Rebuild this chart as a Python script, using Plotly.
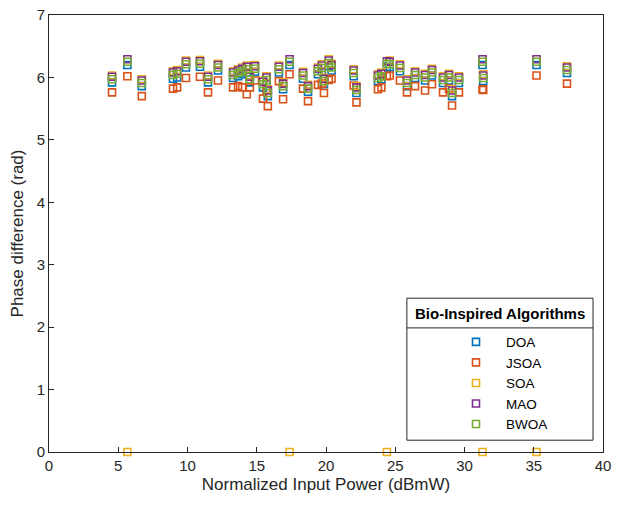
import plotly.graph_objects as go

# Normalized input power (dBmW)
power = [4.55, 5.66, 6.70, 8.95, 9.25, 9.89, 10.90, 11.48, 12.20, 13.29,
         13.65, 13.95, 14.28, 14.50, 14.87, 15.45, 15.70, 15.80, 16.60, 16.90,
         17.37, 18.34, 18.70, 19.42, 19.70, 19.85, 20.20, 20.40, 22.00, 22.20,
         23.75, 24.00, 24.40, 24.60, 25.34, 25.85, 26.43, 27.15, 27.65, 28.45,
         28.88, 29.10, 29.60, 31.30, 31.35, 35.20, 37.40]

doa = [5.92, 6.20, 5.86, 5.98, 6.00, 6.16, 6.17, 5.92, 6.11, 5.99,
       6.02, 6.05, 6.08, 5.92, 6.09, 5.84, 5.91, 5.70, 6.08, 5.81,
       6.20, 5.98, 5.77, 6.05, 6.10, 5.89, 6.18, 6.11, 6.02, 5.75,
       5.94, 5.97, 6.17, 6.16, 6.10, 5.86, 5.99, 5.95, 6.03, 5.91,
       5.95, 5.70, 5.91, 6.20, 5.94, 6.20, 6.07]

jsoa = [5.76, 6.02, 5.70, 5.82, 5.84, 5.99, 6.01, 5.76, 5.95, 5.84,
        5.86, 5.84, 5.73, 5.84, 5.95, 5.66, 5.80, 5.54, 5.94, 5.65,
        6.05, 5.82, 5.62, 5.88, 5.90, 5.75, 5.96, 5.98, 5.87, 5.60,
        5.81, 5.84, 6.02, 6.03, 5.95, 5.76, 5.86, 5.79, 5.89, 5.76,
        5.82, 5.55, 5.76, 5.81, 5.80, 6.03, 5.90]

soa = [6.03, 0.00, 5.97, 6.10, 6.12, 6.27, 6.28, 6.03, 6.22, 6.10,
       6.13, 6.16, 6.19, 6.03, 6.20, 5.95, 6.02, 5.81, 6.19, 5.92,
       0.00, 6.09, 5.88, 6.16, 6.21, 6.00, 6.29, 6.22, 6.13, 5.86,
       6.05, 6.08, 0.00, 6.27, 6.21, 5.97, 6.10, 6.06, 6.14, 6.02,
       6.06, 5.81, 6.02, 0.00, 6.05, 0.00, 6.18]

mao = [6.01, 6.29, 5.95, 6.08, 6.10, 6.25, 6.26, 6.01, 6.20, 6.08,
       6.11, 6.14, 6.17, 6.01, 6.18, 5.93, 6.00, 5.79, 6.17, 5.90,
       6.29, 6.07, 5.86, 6.14, 6.19, 5.98, 6.27, 6.20, 6.11, 5.84,
       6.03, 6.06, 6.26, 6.25, 6.19, 5.95, 6.08, 6.04, 6.12, 6.00,
       6.04, 5.79, 6.00, 6.29, 6.03, 6.29, 6.16]

bwoa = [5.97, 6.25, 5.91, 6.04, 6.06, 6.21, 6.22, 5.97, 6.16, 6.04,
        6.07, 6.10, 6.13, 5.97, 6.14, 5.89, 5.96, 5.75, 6.13, 5.86,
        6.25, 6.03, 5.82, 6.10, 6.15, 5.94, 6.23, 6.16, 6.07, 5.80,
        5.99, 6.02, 6.22, 6.21, 6.15, 5.91, 6.04, 6.00, 6.08, 5.96,
        6.00, 5.75, 5.96, 6.25, 5.99, 6.25, 6.12]

series_names = ["DOA", "JSOA", "SOA", "MAO", "BWOA"]
series_values = [doa, jsoa, soa, mao, bwoa]
colors = ["#0072BD", "#D95319", "#EDB120", "#7E2F8E", "#77AC30"]

x_ticks = [0, 5, 10, 15, 20, 25, 30, 35, 40]
y_ticks = [0, 1, 2, 3, 4, 5, 6, 7]

fig = go.Figure()
for name, vals, col in zip(series_names, series_values, colors):
    fig.add_trace(go.Scatter(
        x=power, y=vals, mode="markers", name=name,
        marker=dict(symbol="square-open", size=7, color=col,
                    line=dict(width=1.6, color=col)),
        cliponaxis=False,
    ))

axis_common = dict(
    showline=True, linecolor="#262626", linewidth=1, mirror=True,
    ticks="inside", ticklen=5, tickcolor="#262626", tickwidth=1,
    showgrid=False, zeroline=False, automargin=False,
    tickfont=dict(family="Liberation Sans, Arial", size=15, color="#262626"),
)

fig.update_layout(
    width=617, height=508,
    margin=dict(l=49, r=14, t=15, b=56, autoexpand=False),
    paper_bgcolor="white", plot_bgcolor="white",
    font=dict(family="Liberation Sans, Arial", color="#262626"),
    xaxis=dict(range=[0, 40], tickvals=x_ticks, **axis_common,
               title=dict(text="Normalized Input Power (dBmW)",
                          font=dict(size=17, color="#262626"), standoff=5)),
    yaxis=dict(range=[0, 7], tickvals=y_ticks, **axis_common,
               title=dict(text="Phase difference (rad)",
                          font=dict(size=17, color="#262626"), standoff=8)),
    showlegend=True,
    legend=dict(
        x=0.7166, y=0.287, xanchor="left", yanchor="top",
        bgcolor="rgba(0,0,0,0)", borderwidth=0,
        font=dict(family="Liberation Sans, Arial", size=13.5, color="#000000"),
        itemwidth=50, tracegroupgap=0,
    ),
)

# Legend frame, title and separator
fig.add_shape(type="rect", xref="paper", yref="paper",
              x0=0.646, x1=0.982, y0=0.027, y1=0.352,
              line=dict(color="#262626", width=1), fillcolor="white", layer="below")
fig.add_shape(type="line", xref="paper", yref="paper",
              x0=0.646, x1=0.982, y0=0.284, y1=0.284,
              line=dict(color="#262626", width=1))
fig.add_annotation(xref="paper", yref="paper", x=0.814, y=0.318,
                   text="<b>Bio-Inspired Algorithms</b>", showarrow=False,
                   font=dict(size=15, color="#000000"),
                   xanchor="center", yanchor="middle")

fig.write_html("out.html")
